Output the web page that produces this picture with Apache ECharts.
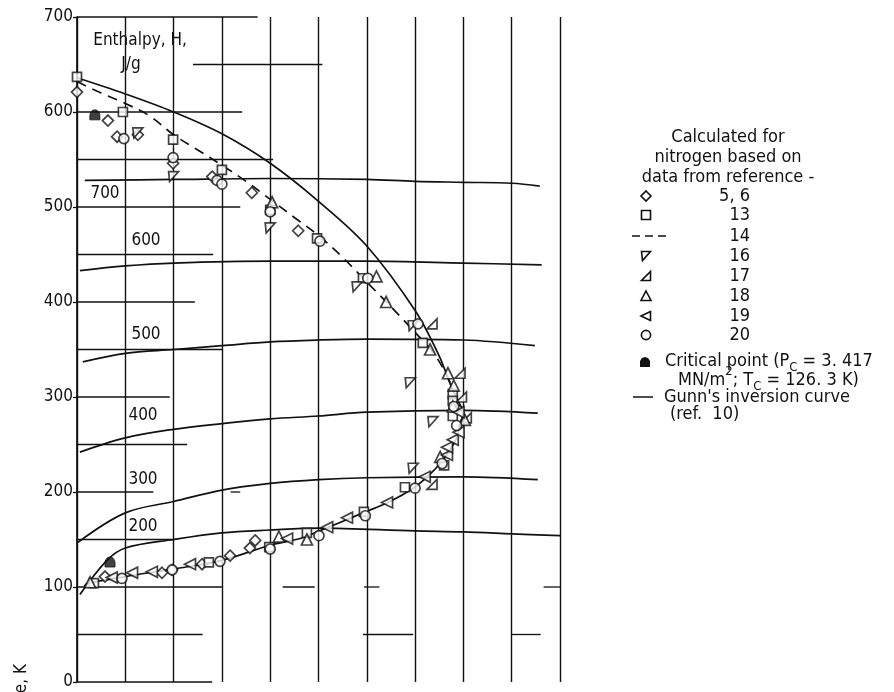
<!DOCTYPE html>
<html><head><meta charset="utf-8">
<script src="https://cdn.jsdelivr.net/npm/echarts@6/dist/echarts.min.js"></script>
<style>html,body{margin:0;padding:0;background:#fff}#c{width:894px;height:692px}</style>
</head><body><div id="c"></div>
<script>
const FONT = "'DejaVu Sans Condensed','Liberation Sans Narrow','Liberation Sans',sans-serif";
const INK = '#111';

// Axes: x = pressure, MN/m^2 (unlabelled, grid every 5); y = temperature, K
const yTickLabels = ['0','100','200','300','400','500','600','700'];

// Data points: [pressure, temperature]
const ref56 = [[0,621],[3.2,591],[4.15,574],[6.3,576],[9.95,546],[14,532],[18.1,515],[22.9,475],[2.9,111],[8.8,115],[9.85,118],[12.95,124],[15.85,133],[17.9,141],[18.45,149]];
const ref13 = [[0,637],[4.75,600],[9.95,571],[15,539],[20,497],[24.85,467],[29.6,425],[35.8,357],[38.9,303],[38.9,296],[38.9,280],[38,228],[33.95,205],[29.7,179],[23.8,157],[19.9,142],[13.65,126],[1.75,104]];
const ref16 = [[6.3,578],[10,532],[20,478],[29,416],[34.8,375],[34.5,315],[36.85,274],[34.8,225]];
const ref17 = [[36.75,377],[39.65,325],[36.75,208],[40.3,278],[39.8,300]];
const ref18 = [[20.2,505],[31,427],[32,400],[36.55,350],[38.4,325],[39,312],[40.15,276],[37.6,237],[20.9,153],[23.8,150],[1.35,105],[38.9,290]];
const ref19 = [[3.6,110],[5.7,115],[7.75,116],[11.7,124],[21.75,151],[25.9,163],[27.95,173],[32.1,189],[36,216],[38.3,239],[38.3,247],[38.9,255],[39.5,263],[39.5,284]];
const ref20 = [[4.85,572],[9.95,552],[14.5,528],[15,524],[20,495],[25.15,464],[30.1,425],[35.3,377],[37.8,230],[35,204],[29.85,175],[25.05,154],[20,140],[14.8,127],[9.85,118],[4.65,109],[39,290],[39.3,270]];
const criticalPts = [[3.417,126.3],[1.85,597]];

// Curve from reference 14 (dashed)
const ref14Curve = [[0,632],[2.5,620],[5,609],[7.5,596],[10,576],[12.5,560],[15,544],[17.5,527],[20,508],[22.5,489],[25,470],[27.5,447],[30,421],[32.5,395],[35,368],[37,345],[38.5,318],[39.6,290]];
// Gunn's inversion curve
const gunnCurve = [[0,636],[5,619],[10,600],[15,577],[20,546],[25,506],[30,459],[35,391],[37.5,343],[38.75,311],[39.65,292],[40,284],[39.65,272],[39.35,258],[38.6,244],[37.6,230],[36.25,216],[34.8,204],[32.4,190],[29.6,178],[24.85,158],[23.1,151],[20,144],[15,128],[10,119],[5,111],[1.15,104],[0.75,101]];

// Isenthalps, J/g
const h700 = [[0.8,528],[10,529],[20,530],[30,529],[35,527],[40,526],[45,525],[47.9,522]];
const h600 = [[0.3,433],[5,438],[10,441],[20,443],[30,443],[40,441],[48.1,439]];
const h500 = [[0.6,337],[5,346],[10,350],[15,354],[20,358],[25,360],[30,361],[40,360],[47.4,354]];
const h400 = [[0.3,242],[5,257],[10,266],[15,272],[20,277],[25,280],[30,284],[40,286],[47.7,283]];
const h300 = [[0.1,147],[5,178],[10,190],[15,202],[20,209],[25,213],[30,215],[40,216],[47.7,213]];
const h200 = [[0.3,92],[3.1,128],[5,141],[10,150],[15,157],[20,160],[25,162],[35,159],[40,158],[45,156],[50,154]];

// Partial horizontal rulings of the graph paper: [temperature, from, to]
const gridSegments = [[700,0,18.7],[650,12,25.4],[600,0,17.1],[550,0,20.3],[500,0,16.9],[450,0,14.1],[400,0,12.2],[350,0,15.1],[300,0,9.6],[250,0,11.4],[200,0,7.9],[200,15.9,16.9],[150,0,10],[100,0,15],[100,21.3,24.6],[100,29.7,31.3],[100,48.3,50],[50,0,13],[50,29.6,34.8],[50,45,48],[0,0,14]];

const SYM16 = 'path://M0,0 L10,0 L1,10 Z';
const SYM17 = 'path://M10,0 L10,10 L0,10 Z';
const SYM19 = 'path://M0,5 L10,0 L10,10 Z';
const SYMCP = 'path://M5,0 C8,0 10,3 10,6 L10,10 L0,10 L0,6 C0,3 2,0 5,0 Z';

const chart = echarts.init(document.getElementById('c'));

function scatter(name, data, symbol, size) {
  return {type:'scatter', name, data, symbol, symbolSize:size||9, z:5,
    itemStyle:{color:'#fff', borderColor:INK, borderWidth:1.7}};
}
function curve(name, data, dashed) {
  return {type:'line', name, data, showSymbol:false, smooth:0.35, z:3,
    lineStyle:{color:INK, width:1.7, type: dashed ? [10,7] : 'solid'}};
}

// text measuring for sub/superscripts
const mctx = document.createElement('canvas').getContext('2d');
function pieces(x, y, parts) {
  const out = []; let cx = x;
  parts.forEach(p => {
    const f = p.size + 'px ' + FONT;
    mctx.font = f;
    out.push({type:'text', x:cx, y:y + (p.dy||0), style:{text:p.t, font:f, fill:INK, textVerticalAlign:'middle'}});
    cx += mctx.measureText(p.t).width;
  });
  return out;
}
function txt(x, y, t, size, align) {
  return {type:'text', x, y, style:{text:t, font:(size||16)+'px '+FONT, fill:INK, textAlign:align||'left', textVerticalAlign:'middle'}};
}

const LS = 18;
const symX = 646;
const rows = [196,215,236,256,276,296,316,335];
const numX = 750;
const legend = [
  txt(728,137,'Calculated for',LS,'center'),
  txt(728,157,'nitrogen based on',LS,'center'),
  txt(728,177,'data from reference -',LS,'center'),
  {type:'polygon', shape:{points:[[symX,rows[0]-5],[symX+5,rows[0]],[symX,rows[0]+5],[symX-5,rows[0]]]}, style:{fill:'#fff',stroke:INK,lineWidth:1.6}},
  {type:'rect', shape:{x:symX-4.5,y:rows[1]-4.5,width:9,height:9}, style:{fill:'#fff',stroke:INK,lineWidth:1.6}},
  {type:'line', shape:{x1:632,y1:rows[2],x2:668,y2:rows[2]}, style:{stroke:INK,lineWidth:1.5,lineDash:[8,5]}},
  {type:'polygon', shape:{points:[[symX-4.5,rows[3]-4.5],[symX+4.5,rows[3]-4.5],[symX-3.5,rows[3]+4.5]]}, style:{fill:'#fff',stroke:INK,lineWidth:1.6}},
  {type:'polygon', shape:{points:[[symX+4.5,rows[4]-4.5],[symX+4.5,rows[4]+4.5],[symX-4.5,rows[4]+4.5]]}, style:{fill:'#fff',stroke:INK,lineWidth:1.6}},
  {type:'polygon', shape:{points:[[symX,rows[5]-5],[symX+5,rows[5]+4.5],[symX-5,rows[5]+4.5]]}, style:{fill:'#fff',stroke:INK,lineWidth:1.6}},
  {type:'polygon', shape:{points:[[symX-5,rows[6]],[symX+4.5,rows[6]-4.5],[symX+4.5,rows[6]+4.5]]}, style:{fill:'#fff',stroke:INK,lineWidth:1.6}},
  {type:'circle', shape:{cx:symX,cy:rows[7],r:4.6}, style:{fill:'#fff',stroke:INK,lineWidth:1.6}},
  txt(numX,rows[0],'5, 6',LS,'right'), txt(numX,rows[1],'13',LS,'right'), txt(numX,rows[2],'14',LS,'right'),
  txt(numX,rows[3],'16',LS,'right'), txt(numX,rows[4],'17',LS,'right'), txt(numX,rows[5],'18',LS,'right'),
  txt(numX,rows[6],'19',LS,'right'), txt(numX,rows[7],'20',LS,'right'),
  {type:'polygon', shape:{points:[[645,357],[648,358],[650,361],[650,367],[640,367],[640,361],[642,358]]}, style:{fill:INK}},
  ...pieces(665,361,[{t:'Critical point (P',size:LS},{t:'C',size:13,dy:7},{t:' = 3. 417',size:LS}]),
  ...pieces(678,380,[{t:'MN/m',size:LS},{t:'2',size:13,dy:-8},{t:'; T',size:LS},{t:'C',size:13,dy:7},{t:' = 126. 3 K)',size:LS}]),
  {type:'line', shape:{x1:633,y1:397,x2:653,y2:397}, style:{stroke:INK,lineWidth:1.5}},
  txt(664,397,"Gunn's inversion curve",LS),
  txt(670,414,'(ref.  10)',LS)
];

const labels = [
  txt(140,41,'Enthalpy, H,',17,'center'),
  txt(131,65,'J/g',17,'center'),
  txt(105,194,'700',17,'center'), txt(146,241,'600',17,'center'), txt(146,335,'500',17,'center'),
  txt(143,416,'400',17,'center'), txt(143,480,'300',17,'center'), txt(143,527,'200',17,'center'),
  {type:'text', x:22, y:664, rotation:Math.PI/2, style:{text:'Temperature, K', font:'17px '+FONT, fill:INK, textAlign:'right', textVerticalAlign:'middle'}}
];

chart.setOption({
  animation:false,
  backgroundColor:'#fff',
  grid:{left:77, top:17, width:483, height:665},
  xAxis:{type:'value', min:0, max:50, interval:5,
    axisLine:{show:false}, axisTick:{show:false}, axisLabel:{show:false},
    splitLine:{show:true, lineStyle:{color:INK, width:1.4}}},
  yAxis:{type:'value', min:0, max:700, interval:100,
    axisLine:{show:true, lineStyle:{color:INK, width:1.7}},
    axisTick:{show:true, length:4, lineStyle:{color:INK, width:1.3}},
    axisLabel:{color:INK, fontSize:17, fontFamily:FONT, margin:4,
      formatter:(v)=>yTickLabels[Math.round(v/100)]},
    splitLine:{show:false}},
  graphic:[...legend, ...labels],
  series:[
    {type:'custom', name:'grid', silent:true, z:1, clip:false, data:gridSegments,
      encode:{x:[1,2], y:0},
      renderItem:(params, api)=>{
        const t = api.value(0), a = api.value(1), b = api.value(2);
        const p1 = api.coord([a,t]), p2 = api.coord([b,t]);
        return {type:'line', shape:{x1:p1[0],y1:p1[1],x2:p2[0],y2:p2[1]}, style:{stroke:INK, lineWidth:1.3}};
      }},
    curve('H700', h700), curve('H600', h600), curve('H500', h500),
    curve('H400', h400), curve('H300', h300), curve('H200', h200),
    curve('Gunn', gunnCurve), curve('14', ref14Curve, true),
    scatter('5, 6', ref56, 'diamond', 11),
    scatter('13', ref13, 'rect', 9),
    scatter('16', ref16, SYM16, 10),
    scatter('17', ref17, SYM17, 10),
    scatter('18', ref18, 'triangle', 11),
    scatter('19', ref19, SYM19, 11),
    scatter('20', ref20, 'circle', 10),
    {type:'scatter', name:'Critical point', data:criticalPts, symbol:SYMCP, symbolSize:10, z:6,
      itemStyle:{color:INK, borderColor:INK, borderWidth:1}}
  ]
});
</script></body></html>
